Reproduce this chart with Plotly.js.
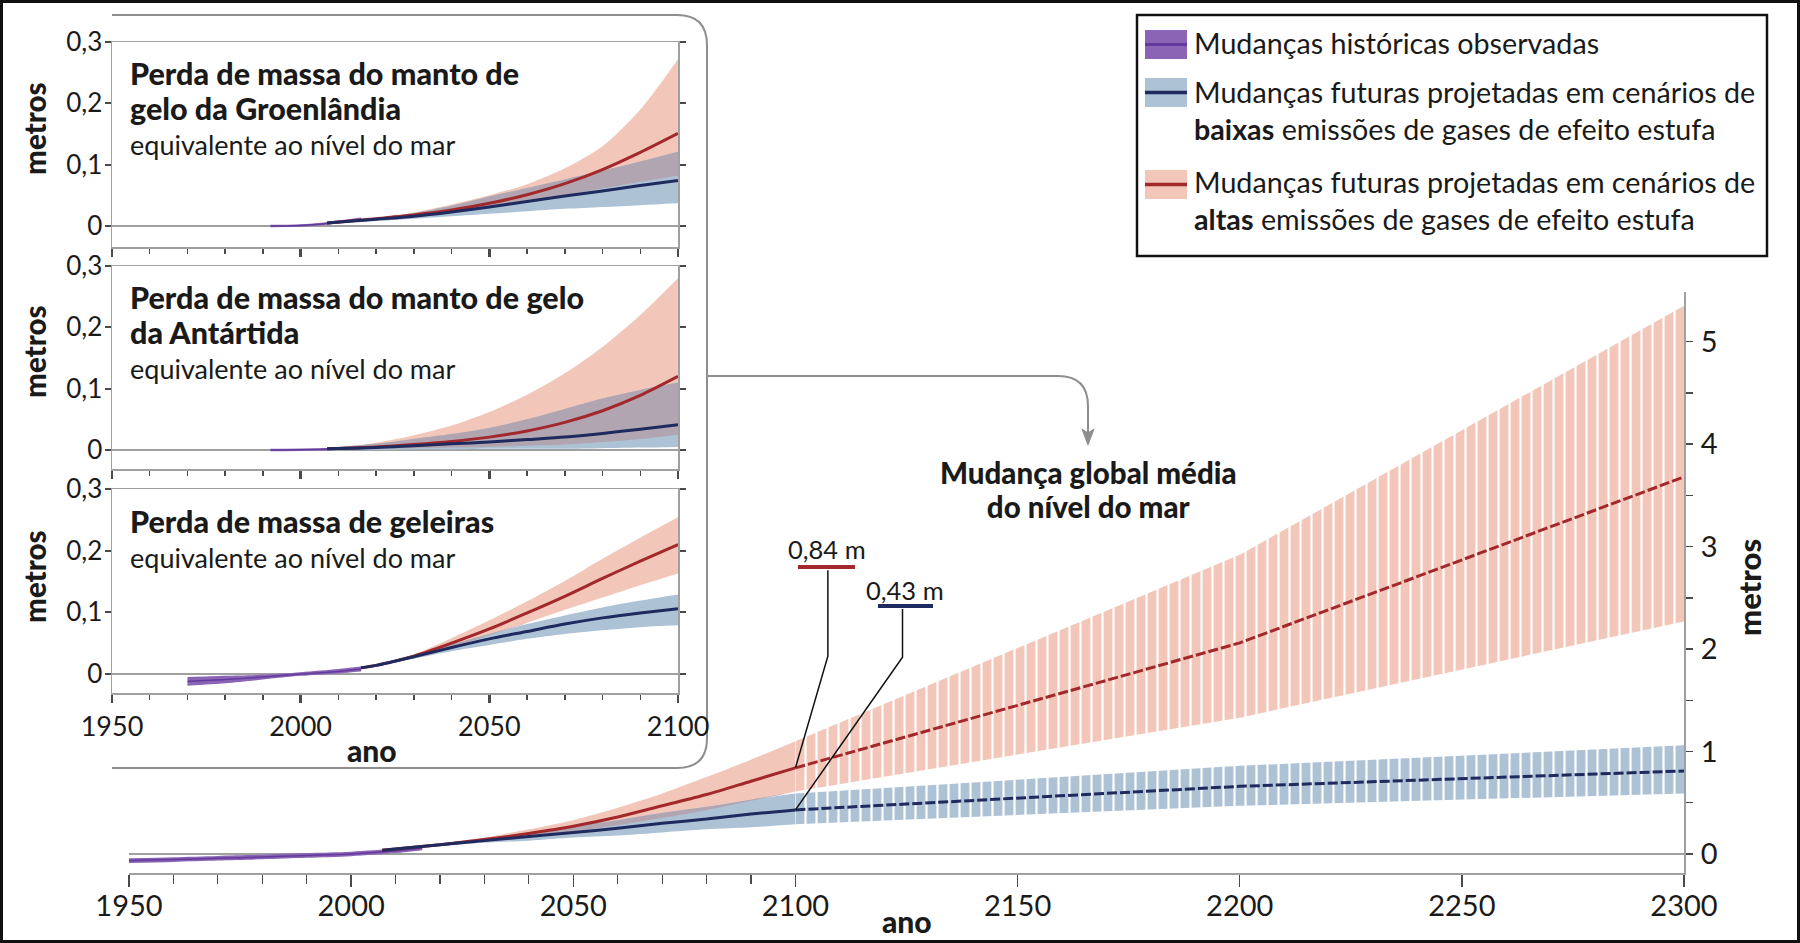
<!DOCTYPE html>
<html><head><meta charset="utf-8">
<script src="https://cdn.plot.ly/plotly-3.0.1.min.js"></script>
<style>html,body{margin:0;padding:0;background:#fff}#chart{width:1800px;height:943px}</style>
</head><body><div id="chart"></div>
<script>
// ================= DATA =================
// Main chart: global mean sea level change (m)
const histYears = [1950, 1960, 1970, 1980, 1990, 2000, 2010, 2016];
const histMid   = [-0.065, -0.055, -0.042, -0.030, -0.015, 0.000, 0.030, 0.058];
const histLo    = [-0.088, -0.078, -0.065, -0.053, -0.038, -0.022, 0.008, 0.036];
const histHi    = [-0.042, -0.032, -0.019, -0.007, 0.008, 0.022, 0.052, 0.080];

const projYears = [2007, 2020, 2030, 2040, 2050, 2060, 2070, 2080, 2090, 2100];
const highMid = [0.035, 0.09, 0.14, 0.20, 0.27, 0.36, 0.47, 0.58, 0.71, 0.84];
const highLo  = [0.035, 0.08, 0.12, 0.17, 0.22, 0.28, 0.35, 0.43, 0.52, 0.61];
const highHi  = [0.035, 0.10, 0.16, 0.24, 0.33, 0.45, 0.59, 0.75, 0.92, 1.10];
const lowMid  = [0.035, 0.09, 0.13, 0.17, 0.21, 0.25, 0.30, 0.34, 0.39, 0.43];
const lowLo   = [0.035, 0.08, 0.11, 0.13, 0.16, 0.18, 0.21, 0.24, 0.26, 0.29];
const lowHi   = [0.035, 0.10, 0.15, 0.21, 0.27, 0.33, 0.40, 0.46, 0.53, 0.59];

const postYears = [2100, 2200, 2300];
const highMidPost = [0.84, 2.06, 3.68];
const highLoPost  = [0.61, 1.33, 2.27];
const highHiPost  = [1.10, 2.92, 5.35];
const lowMidPost  = [0.43, 0.66, 0.81];
const lowLoPost   = [0.29, 0.47, 0.59];
const lowHiPost   = [0.59, 0.86, 1.06];

// Inset 1: Greenland
const grHistYears = [1992, 2000, 2005, 2010, 2016];
const grHistMid = [0.000, 0.001, 0.003, 0.006, 0.011];
const grHistLo  = [-0.002, -0.001, 0.001, 0.004, 0.008];
const grHistHi  = [0.002, 0.003, 0.005, 0.009, 0.014];
const grHighMid = [0.005, 0.012, 0.018, 0.026, 0.037, 0.051, 0.069, 0.092, 0.120, 0.151];
const grHighLo  = [0.005, 0.010, 0.015, 0.021, 0.029, 0.039, 0.050, 0.061, 0.072, 0.082];
const grHighHi  = [0.005, 0.013, 0.022, 0.035, 0.050, 0.068, 0.094, 0.130, 0.190, 0.272];
const grLowMid  = [0.005, 0.011, 0.016, 0.023, 0.031, 0.040, 0.049, 0.057, 0.066, 0.074];
const grLowLo   = [0.005, 0.008, 0.012, 0.016, 0.020, 0.024, 0.028, 0.031, 0.034, 0.037];
const grLowHi   = [0.005, 0.013, 0.021, 0.033, 0.048, 0.062, 0.076, 0.090, 0.105, 0.121];

// Inset 2: Antarctica
const anHistYears = [1992, 2000, 2005, 2010, 2016];
const anHistMid = [0.000, 0.0005, 0.001, 0.002, 0.003];
const anHistLo  = [-0.002, -0.0015, -0.001, 0.000, 0.001];
const anHistHi  = [0.002, 0.0025, 0.003, 0.004, 0.005];
const anHighMid = [0.002, 0.005, 0.009, 0.014, 0.021, 0.031, 0.045, 0.064, 0.089, 0.120];
const anHighLo  = [0.001, 0.002, 0.003, 0.004, 0.005, 0.007, 0.009, 0.013, 0.018, 0.025];
const anHighHi  = [0.003, 0.012, 0.024, 0.040, 0.062, 0.090, 0.125, 0.168, 0.220, 0.280];
const anLowMid  = [0.002, 0.004, 0.007, 0.010, 0.013, 0.017, 0.021, 0.027, 0.034, 0.041];
const anLowLo   = [0.000, 0.000, 0.001, 0.001, 0.002, 0.002, 0.002, 0.003, 0.004, 0.005];
const anLowHi   = [0.003, 0.010, 0.018, 0.026, 0.036, 0.050, 0.067, 0.084, 0.098, 0.110];

// Inset 3: glaciers
const glHistYears = [1970, 1980, 1990, 2000, 2010, 2016];
const glHistMid = [-0.012, -0.009, -0.005, 0.000, 0.004, 0.008];
const glHistLo  = [-0.019, -0.015, -0.009, -0.003, 0.001, 0.004];
const glHistHi  = [-0.005, -0.003, -0.001, 0.003, 0.008, 0.012];
const glYears   = [2016, 2020, 2030, 2040, 2050, 2060, 2070, 2080, 2090, 2100];
const glHighMid = [0.010, 0.014, 0.029, 0.050, 0.073, 0.099, 0.126, 0.155, 0.183, 0.210];
const glHighLo  = [0.010, 0.013, 0.026, 0.044, 0.063, 0.083, 0.104, 0.124, 0.144, 0.163];
const glHighHi  = [0.010, 0.015, 0.032, 0.058, 0.087, 0.118, 0.151, 0.187, 0.221, 0.254];
const glLowMid  = [0.010, 0.014, 0.028, 0.043, 0.057, 0.069, 0.081, 0.091, 0.099, 0.106];
const glLowLo   = [0.010, 0.013, 0.025, 0.037, 0.047, 0.057, 0.065, 0.071, 0.076, 0.079];
const glLowHi   = [0.010, 0.015, 0.031, 0.048, 0.065, 0.081, 0.095, 0.108, 0.119, 0.129];

// Ticks / labels
const mainTicks = [1950, 2000, 2050, 2100, 2150, 2200, 2250, 2300];
const mainMinor = [1960, 1970, 1980, 1990, 2010, 2020, 2030, 2040, 2060, 2070, 2080, 2090];
const mainYTicks = [0, 1, 2, 3, 4, 5];
const insetXTicks = [1950, 2000, 2050, 2100];
const insetMinor = [1960, 1970, 1980, 1990, 2010, 2020, 2030, 2040, 2060, 2070, 2080, 2090];
const insetYTicks = [0, 0.1, 0.2, 0.3];
const insetYText = ['0', '0,1', '0,2', '0,3'];

// ================= STYLE =================
const FONT = 'Lato, "Noto Sans", sans-serif';
const TXT = '#1a1a1a';
const PINK = '#f2c6b9', BLUE = '#adc2d5', OVER = '#b1a5b1';
const RED = '#a3282b', NAVY = '#1f2a5e';
const PURPLE_BAND = '#8a64b5', PURPLE = '#643a9c';
const AXIS = '#a0a0a0', TICK = '#4a4a4a';
const W = 1800, H = 943;
const px = v => v / W;
const py = v => 1 - v / H;
const B = (t, s) => '<span style="font-weight:900;font-size:' + s + 'px">' + t + '</span>';

function overlap(lo1, hi1, lo2, hi2) {
  const lo = lo1.map((v, i) => Math.max(v, lo2[i]));
  const hi = hi1.map((v, i) => Math.max(Math.min(v, hi2[i]), lo[i]));
  return [lo, hi];
}
function band(x, lo, hi, color, xa, ya, pattern, shape) {
  const sh = shape || 'spline';
  const a = {x: x, y: lo, type: 'scatter', mode: 'lines', line: {width: 0, color: color, shape: sh, smoothing: 0.8},
             xaxis: xa, yaxis: ya, hoverinfo: 'skip', showlegend: false};
  const b = {x: x, y: hi, type: 'scatter', mode: 'lines', line: {width: 0, color: color, shape: sh, smoothing: 0.8},
             fill: 'tonexty', fillcolor: color, xaxis: xa, yaxis: ya, hoverinfo: 'skip', showlegend: false};
  if (pattern) b.fillpattern = {shape: '|', bgcolor: color, fgcolor: '#ffffff', size: 11, solidity: 0.2};
  return [a, b];
}
function line(x, y, color, width, xa, ya, dash, shape) {
  return {x: x, y: y, type: 'scatter', mode: 'lines',
          line: {color: color, width: width, dash: dash || 'solid', shape: shape || 'spline', smoothing: 0.8},
          xaxis: xa, yaxis: ya, hoverinfo: 'skip', showlegend: false};
}

// ================= TRACES =================
let traces = [];
const [ovLo, ovHi] = overlap(highLo, highHi, lowLo, lowHi);
traces.push(...band(projYears, highLo, highHi, PINK, 'x', 'y'));
traces.push(...band(projYears, lowLo, lowHi, BLUE, 'x', 'y'));
traces.push(...band(projYears, ovLo, ovHi, OVER, 'x', 'y'));
traces.push(...band(postYears, highLoPost, highHiPost, PINK, 'x', 'y', true, 'linear'));
traces.push(...band(postYears, lowLoPost, lowHiPost, BLUE, 'x', 'y', true, 'linear'));
traces.push(...band(histYears, histLo, histHi, PURPLE_BAND, 'x', 'y'));
traces.push(line(histYears, histMid, PURPLE, 1.5, 'x', 'y'));
traces.push(line(projYears, highMid, RED, 3, 'x', 'y'));
traces.push(line(postYears, highMidPost, RED, 3, 'x', 'y', '10px,3px', 'linear'));
traces.push(line(projYears, lowMid, NAVY, 3, 'x', 'y'));
traces.push(line(postYears, lowMidPost, NAVY, 3, 'x', 'y', '10px,3px', 'linear'));

function insetTraces(n, hy, hm, hl, hh, pyr, hiM, hiL, hiH, loM, loL, loH) {
  const xa = 'x' + n, ya = 'y' + n;
  const [oL, oH] = overlap(hiL, hiH, loL, loH);
  const t = [];
  t.push(...band(pyr, hiL, hiH, PINK, xa, ya));
  t.push(...band(pyr, loL, loH, BLUE, xa, ya));
  t.push(...band(pyr, oL, oH, OVER, xa, ya));
  t.push(...band(hy, hl, hh, PURPLE_BAND, xa, ya));
  t.push(line(hy, hm, PURPLE, 1.5, xa, ya));
  t.push(line(pyr, hiM, RED, 3, xa, ya));
  t.push(line(pyr, loM, NAVY, 3, xa, ya));
  return t;
}
traces.push(...insetTraces(2, grHistYears, grHistMid, grHistLo, grHistHi, projYears, grHighMid, grHighLo, grHighHi, grLowMid, grLowLo, grLowHi));
traces.push(...insetTraces(3, anHistYears, anHistMid, anHistLo, anHistHi, projYears, anHighMid, anHighLo, anHighHi, anLowMid, anLowLo, anLowHi));
traces.push(...insetTraces(4, glHistYears, glHistMid, glHistLo, glHistHi, glYears, glHighMid, glHighLo, glHighHi, glLowMid, glLowLo, glLowHi));

// ================= AXES =================
function insetX(n, labels) {
  return {domain: [px(112), px(678)], range: [1950, 2100], anchor: 'y' + n,
    showline: true, mirror: true, linecolor: AXIS, linewidth: 1.5,
    ticks: 'outside', ticklen: 8, tickwidth: 2.5, tickcolor: TICK,
    tickmode: 'array', tickvals: insetXTicks, showticklabels: labels, ticklabelstandoff: 1,
    tickfont: {size: 27, color: TXT, family: FONT},
    minor: {tickmode: 'array', tickvals: insetMinor, ticks: 'outside', ticklen: 5, tickwidth: 1.5, tickcolor: TICK, showgrid: false},
    showgrid: false, zeroline: false, fixedrange: true};
}
function insetY(n, top, zero, bottom) {
  const unit = (zero - top) / 0.3;
  const lo = -(bottom - zero) / unit;
  return {domain: [py(bottom), py(top)], range: [lo, 0.3], anchor: 'x' + n,
    showline: true, mirror: 'ticks', linecolor: AXIS, linewidth: 1.5,
    ticks: 'outside', ticklen: 6, tickwidth: 2, tickcolor: TICK,
    tickmode: 'array', tickvals: insetYTicks, ticktext: insetYText, ticklabelstandoff: -3,
    tickfont: {size: 26, color: TXT, family: FONT},
    zeroline: true, zerolinecolor: AXIS, zerolinewidth: 2, showgrid: false, fixedrange: true};
}

const layout = {
  width: W, height: H, margin: {l: 0, r: 0, t: 0, b: 0},
  paper_bgcolor: '#ffffff', plot_bgcolor: 'rgba(0,0,0,0)',
  font: {family: FONT, color: TXT},
  separators: ', ',
  showlegend: false,
  xaxis: {domain: [px(129), px(1684)], range: [1950, 2300], anchor: 'y',
    showline: true, linecolor: AXIS, linewidth: 2,
    ticks: 'outside', ticklen: 12, tickwidth: 1.5, tickcolor: TICK,
    tickmode: 'array', tickvals: mainTicks, ticklabelstandoff: -6, tickfont: {size: 29, color: TXT, family: FONT},
    minor: {tickmode: 'array', tickvals: mainMinor, ticks: 'outside', ticklen: 9, tickwidth: 1.2, tickcolor: TICK, showgrid: false},
    showgrid: false, zeroline: false, fixedrange: true},
  yaxis: {domain: [py(873), py(291.5)], range: [-0.186, 5.49], anchor: 'x', side: 'right',
    showline: true, linecolor: AXIS, linewidth: 2,
    ticks: 'outside', ticklen: 7, tickwidth: 1.5, tickcolor: TICK,
    tickmode: 'array', tickvals: mainYTicks, ticklabelstandoff: 2,
    tickfont: {size: 29, color: TXT, family: FONT},
    minor: {dtick: 0.5, tick0: 0, ticks: 'outside', ticklen: 7, tickwidth: 1.5, tickcolor: TICK, showgrid: false},
    zeroline: true, zerolinecolor: AXIS, zerolinewidth: 2, showgrid: false, fixedrange: true},
  xaxis2: insetX(2, false), yaxis2: insetY(2, 42, 226, 247),
  xaxis3: insetX(3, false), yaxis3: insetY(3, 266, 450, 469),
  xaxis4: insetX(4, true),  yaxis4: insetY(4, 489, 674, 693),
};

// ================= ANNOTATIONS =================
function ann(text, x, y, size, opts) {
  return Object.assign({text: text, xref: 'paper', yref: 'paper', x: px(x), y: py(y),
    xanchor: 'left', yanchor: 'middle', align: 'left', showarrow: false,
    font: {size: size, color: TXT, family: FONT}}, opts || {});
}
const annotations = [
  ann(B('Perda de massa do manto de', 30.5) + '<br>' + B('gelo da Groenlândia', 30.5) + '<br>equivalente ao nível do mar', 128, 108, 27),
  ann(B('Perda de massa do manto de gelo', 30.5) + '<br>' + B('da Antártida', 30.5) + '<br>equivalente ao nível do mar', 128, 332, 27),
  ann(B('Perda de massa de geleiras', 30.5) + '<br>equivalente ao nível do mar', 128, 538, 27),
  ann(B('metros', 29.5), 34, 129, 29.5, {xanchor: 'center', textangle: -90}),
  ann(B('metros', 29.5), 34, 352, 29.5, {xanchor: 'center', textangle: -90}),
  ann(B('metros', 29.5), 34, 577, 29.5, {xanchor: 'center', textangle: -90}),
  ann(B('ano', 30), 372, 750, 30, {xanchor: 'center'}),
  ann(B('ano', 30), 907, 921, 30, {xanchor: 'center'}),
  ann(B('metros', 31), 1749, 588, 31, {xanchor: 'center', textangle: -90}),
  ann(B('Mudança global média', 29.5) + '<br>' + B('do nível do mar', 29.5), 1088, 489, 26, {xanchor: 'center', align: 'center'}),
  ann('0,84 m', 827, 549, 25.5, {xanchor: 'center'}),
  ann('0,43 m', 905, 590, 25.5, {xanchor: 'center'}),
  // legend texts
  ann('Mudanças históricas observadas', 1192, 43, 28.7),
  ann('Mudanças futuras projetadas em cenários de<br><b>baixas</b> emissões de gases de efeito estufa', 1192, 111, 28.7),
  ann('Mudanças futuras projetadas em cenários de<br><b>altas</b> emissões de gases de efeito estufa', 1192, 200, 28.7),
];

// ================= SHAPES =================
function pth(points) {
  return points.map(p => p[0] + p.slice(1).map((v, i) => (i % 2 === 0 ? px(v) : py(v)).toFixed(5)).join(',')).join(' ');
}
const GREY = '#8e8e8e';
const shapes = [
  {type: 'rect', xref: 'paper', yref: 'paper', x0: px(1.5), x1: px(1798.5), y0: py(941.5), y1: py(1.5),
   line: {color: '#111', width: 3}, layer: 'above'},
  {type: 'path', xref: 'paper', yref: 'paper', layer: 'below', line: {color: GREY, width: 2},
   path: pth([['M', 112, 15], ['L', 677, 15], ['Q', 707, 15, 707, 45], ['L', 707, 738], ['Q', 707, 768, 677, 768], ['L', 112, 768]])},
  {type: 'path', xref: 'paper', yref: 'paper', line: {color: GREY, width: 2},
   path: pth([['M', 707, 376], ['L', 1058, 376], ['Q', 1088, 376, 1088, 406], ['L', 1088, 434]])},
  {type: 'path', xref: 'paper', yref: 'paper', line: {color: GREY, width: 1}, fillcolor: GREY,
   path: pth([['M', 1082, 429], ['L', 1088, 433], ['L', 1094, 429], ['L', 1088, 445], ['Z']])},
  {type: 'line', xref: 'paper', yref: 'paper', x0: px(798), x1: px(855), y0: py(567), y1: py(567), line: {color: RED, width: 4}},
  {type: 'line', xref: 'paper', yref: 'paper', x0: px(878), x1: px(933), y0: py(606), y1: py(606), line: {color: NAVY, width: 4}},
  {type: 'path', xref: 'x', yref: 'y', line: {color: '#111', width: 1.5},
   path: 'M2107.3,2.77 L2107.3,1.93 L' + postYears[0] + ',' + highMidPost[0]},
  {type: 'path', xref: 'x', yref: 'y', line: {color: '#111', width: 1.5},
   path: 'M2124.1,2.39 L2124.1,1.92 L' + postYears[0] + ',' + lowMidPost[0]},
  {type: 'rect', xref: 'paper', yref: 'paper', x0: px(1137), x1: px(1767), y0: py(256), y1: py(15),
   line: {color: '#111', width: 2.5}, fillcolor: 'rgba(0,0,0,0)'},
  {type: 'rect', xref: 'paper', yref: 'paper', x0: px(1145), x1: px(1187), y0: py(59), y1: py(30), line: {width: 0}, fillcolor: PURPLE_BAND},
  {type: 'line', xref: 'paper', yref: 'paper', x0: px(1145), x1: px(1187), y0: py(44.5), y1: py(44.5), line: {color: PURPLE, width: 3}},
  {type: 'rect', xref: 'paper', yref: 'paper', x0: px(1145), x1: px(1187), y0: py(107), y1: py(78), line: {width: 0}, fillcolor: BLUE},
  {type: 'line', xref: 'paper', yref: 'paper', x0: px(1145), x1: px(1187), y0: py(92.5), y1: py(92.5), line: {color: NAVY, width: 3.5}},
  {type: 'rect', xref: 'paper', yref: 'paper', x0: px(1145), x1: px(1187), y0: py(199), y1: py(170), line: {width: 0}, fillcolor: PINK},
  {type: 'line', xref: 'paper', yref: 'paper', x0: px(1145), x1: px(1187), y0: py(184.5), y1: py(184.5), line: {color: RED, width: 3.5}},
];

layout.annotations = annotations;
layout.shapes = shapes;

Plotly.newPlot('chart', traces, layout, {displayModeBar: false, staticPlot: true});
</script>
</body></html>
